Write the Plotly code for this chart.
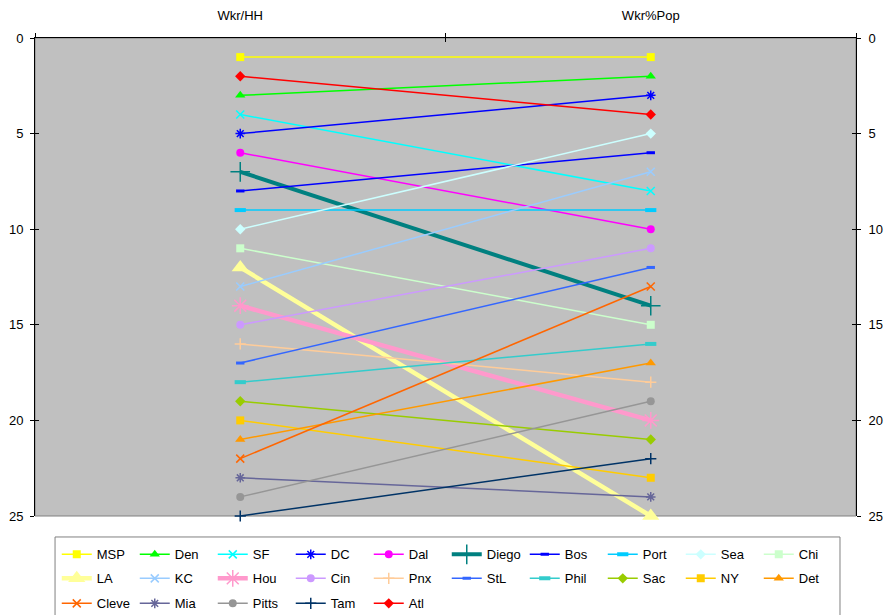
import plotly.graph_objects as go

# Ranking of 25 metro areas on two worker measures
categories = ["Wkr/HH", "Wkr%Pop"]
cities = ["MSP", "Den", "SF", "DC", "Dal", "Diego", "Bos", "Port", "Sea", "Chi",
          "LA", "KC", "Hou", "Cin", "Pnx", "StL", "Phil", "Sac", "NY", "Det",
          "Cleve", "Mia", "Pitts", "Tam", "Atl"]
rank_wkr_hh = [1, 3, 4, 5, 6, 7, 8, 9, 10, 11,
               12, 13, 14, 15, 16, 17, 18, 19, 20, 21,
               22, 23, 24, 25, 2]
rank_wkr_pop = [1, 2, 8, 3, 10, 14, 6, 9, 5, 15,
                25, 7, 20, 11, 18, 12, 16, 21, 23, 17,
                13, 24, 19, 22, 4]
y_ticks = [0, 5, 10, 15, 20, 25]

# color, marker symbol, marker size, line width
styles = {
    "MSP":   ("#FFFF00", "square", 8, 1.5),
    "Den":   ("#00FF00", "triangle-up", 9, 1.5),
    "SF":    ("#00FFFF", "x-thin", 8, 1.5),
    "DC":    ("#0000FF", "asterisk", 8, 1.5),
    "Dal":   ("#FF00FF", "circle", 8, 1.5),
    "Diego": ("#008080", "cross-thin", 14, 4),
    "Bos":   ("#0000FF", "line-ew", 6, 1.5),
    "Port":  ("#00CCFF", "line-ew", 8, 1.5),
    "Sea":   ("#CCFFFF", "diamond", 8, 1.5),
    "Chi":   ("#CCFFCC", "square", 8, 1.5),
    "LA":    ("#FFFF99", "triangle-up", 15, 4.5),
    "KC":    ("#99CCFF", "x-thin", 8, 1.5),
    "Hou":   ("#FF99CC", "asterisk", 14, 4.5),
    "Cin":   ("#CC99FF", "circle", 8, 1.5),
    "Pnx":   ("#FFCC99", "cross-thin", 8, 1.5),
    "StL":   ("#3366FF", "line-ew", 6, 1.5),
    "Phil":  ("#33CCCC", "line-ew", 8, 1.5),
    "Sac":   ("#99CC00", "diamond", 8, 1.5),
    "NY":    ("#FFCC00", "square", 8, 1.5),
    "Det":   ("#FF9900", "triangle-up", 9, 1.5),
    "Cleve": ("#FF6600", "x-thin", 8, 1.5),
    "Mia":   ("#666699", "asterisk", 8, 1.5),
    "Pitts": ("#969696", "circle", 8, 1.5),
    "Tam":   ("#003366", "cross-thin", 8, 1.5),
    "Atl":   ("#FF0000", "diamond", 8, 1.5),
}

FONT = "Liberation Sans, Arial, sans-serif"
LEGEND_ROW = 10  # entries per legend row

fig = go.Figure()

for i, (name, a, b) in enumerate(zip(cities, rank_wkr_hh, rank_wkr_pop)):
    color, symbol, size, lw = styles[name]
    open_symbol = symbol in ("x-thin", "cross-thin", "asterisk")
    if symbol == "line-ew":
        mline = dict(color=color, width=4 if size >= 8 else 3)
    elif open_symbol:
        mline = dict(color=color, width=1.5)
    else:
        mline = dict(color=color, width=0)
    row = i // LEGEND_ROW
    fig.add_trace(go.Scatter(
        x=categories, y=[a, b], name=name, mode="lines+markers",
        line=dict(color=color, width=lw),
        marker=dict(symbol=symbol, size=size, color=color, line=mline),
        cliponaxis=False,
        legend="legend" if row == 0 else f"legend{row + 1}",
    ))

# empty traces that register the extra tick axes
for xa, ya in (("x", "y2"), ("x", "y3"), ("x", "y4"), ("x2", "y")):
    fig.add_trace(go.Scatter(x=[None], y=[None], xaxis=xa, yaxis=ya,
                             showlegend=False, hoverinfo="skip"))

yrange = [25, 0]
common_y = dict(range=yrange, tickvals=y_ticks, showgrid=False, zeroline=False,
                tickcolor="black", ticklen=4, tickwidth=1,
                tickfont=dict(family=FONT, size=13, color="black"))


def legend_row(ypos):
    return dict(orientation="h", x=0.0265, y=ypos, xanchor="left", yanchor="top",
                entrywidth=33, entrywidthmode="pixels",
                borderwidth=0, bgcolor="rgba(0,0,0,0)",
                font=dict(family=FONT, size=13, color="black"),
                traceorder="normal")


fig.update_layout(
    width=889, height=615,
    margin=dict(l=35, r=33, t=38, b=99, autoexpand=False),
    plot_bgcolor="#C0C0C0", paper_bgcolor="white",
    font=dict(family=FONT, size=13, color="black"),
    xaxis=dict(type="category", categoryorder="array", categoryarray=categories,
               range=[-0.5, 1.5], side="top", tickson="boundaries",
               ticks="outside", ticklen=4, tickcolor="black", showgrid=False,
               showline=True, linecolor="black", linewidth=1,
               tickfont=dict(family=FONT, size=13, color="black"),
               ticklabelstandoff=12),
    xaxis2=dict(overlaying="x", side="top", range=[-0.5, 1.5],
                tickvals=[-0.5, 0.5, 1.5], ticks="inside", ticklen=4,
                tickcolor="black", showticklabels=False, showgrid=False,
                zeroline=False, showline=False),
    yaxis=dict(side="left", ticks="outside", showline=True, linecolor="black",
               linewidth=1, ticklabelstandoff=4, **common_y),
    yaxis2=dict(overlaying="y", side="right", ticks="outside", showline=True,
                linecolor="black", linewidth=1, ticklabelstandoff=5, **common_y),
    yaxis3=dict(overlaying="y", side="left", ticks="inside",
                showticklabels=False, showline=False, **common_y),
    yaxis4=dict(overlaying="y", side="right", ticks="inside",
                showticklabels=False, showline=False, **common_y),
    legend=legend_row(-0.0490),
    legend2=legend_row(-0.0992),
    legend3=legend_row(-0.1515),
    shapes=[
        # plot-area border
        dict(type="rect", xref="paper", yref="paper", x0=0, x1=1, y0=0, y1=1,
             line=dict(color="#808080", width=1), layer="below"),
        # legend frame
        dict(type="rect", xref="paper", yref="paper", x0=0.0244, x1=0.9805,
             y0=-0.2176, y1=-0.0439, fillcolor="white",
             line=dict(color="#808080", width=1), layer="below"),
    ],
    showlegend=True,
)

fig.write_html("out.html")
